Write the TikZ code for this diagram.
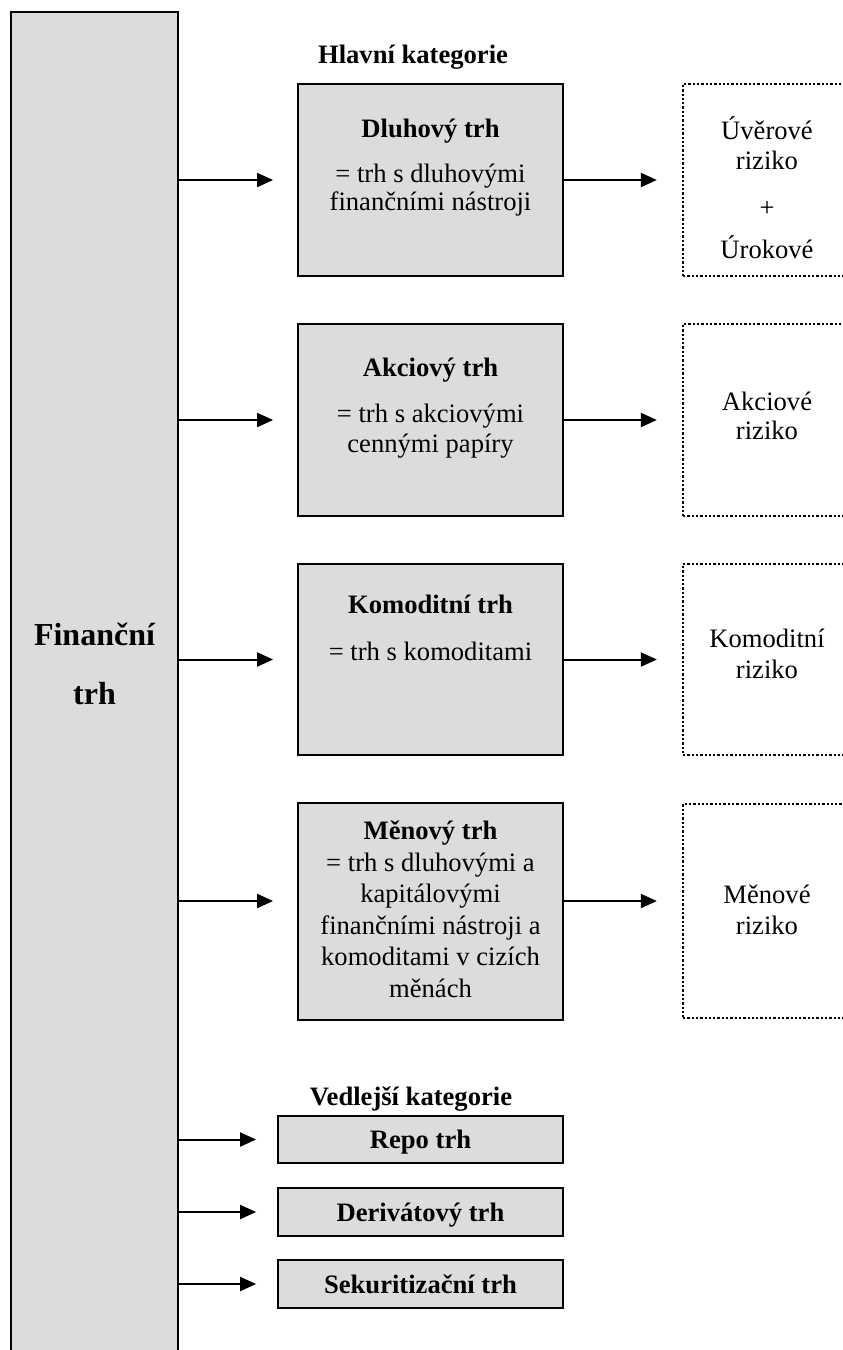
\documentclass[tikz,border=0pt]{standalone}
\usepackage{fontspec}
\setmainfont{Liberation Serif}
\usetikzlibrary{arrows.meta,calc}
\definecolor{boxgray}{HTML}{DCDCDC}
\tikzset{
  graybox/.style={draw=black, line width=1.8pt, fill=boxgray, inner sep=0pt},
  dotbox/.style={draw=black, line width=2.3pt, dash pattern=on 2.3pt off 2pt, inner sep=0pt},
  txt/.style={anchor=base, inner sep=0pt, font=\fontsize{26.6}{30}\selectfont},
  btxt/.style={anchor=base, inner sep=0pt, font=\fontsize{26.6}{30}\selectfont\bfseries},
  bigtxt/.style={anchor=base, inner sep=0pt, font=\fontsize{32}{38}\selectfont\bfseries},
  arr/.style={line width=2pt, -{Triangle[length=16pt,width=14pt]}}
}
\begin{document}
\begin{tikzpicture}[x=1pt,y=-1pt]
\useasboundingbox (0,0) rectangle (843,1350);
\clip (0,0) rectangle (843,1350);
% left big box
\node[graybox, minimum width=167pt, minimum height=1388pt] (fin) at (94.5,706) {};
\node[bigtxt] (fin1) at (94.5,645) {Finanční};
\node[bigtxt] (fin2) at (94.5,704) {trh};
% headings
\node[btxt] (hk) at (413,63) {Hlavní kategorie};
\node[btxt] (vk) at (411,1105) {Vedlejší kategorie};
% main boxes
\node[graybox, minimum width=265pt, minimum height=192pt] (b1) at (430.5,180) {};
\node[graybox, minimum width=265pt, minimum height=192pt] (b2) at (430.5,420) {};
\node[graybox, minimum width=265pt, minimum height=191pt] (b3) at (430.5,659.5) {};
\node[graybox, minimum width=265pt, minimum height=217pt] (b4) at (430.5,911.5) {};
\node[btxt] (t1a) at (430.5,137) {Dluhový trh};
\node[txt] (t1b) at (430.5,182) {= trh s dluhovými};
\node[txt] (t1c) at (430.5,210) {finančními nástroji};
\node[btxt] (t2a) at (430.5,376) {Akciový trh};
\node[txt] (t2b) at (430.5,422) {= trh s akciovými};
\node[txt] (t2c) at (430.5,452) {cennými papíry};
\node[btxt] (t3a) at (430.5,613) {Komoditní trh};
\node[txt] (t3b) at (430.5,660) {= trh s komoditami};
\node[btxt] (t4a) at (430.5,839) {Měnový trh};
\node[txt] (t4b) at (430.5,871) {= trh s dluhovými a};
\node[txt] (t4c) at (430.5,902) {kapitálovými};
\node[txt] (t4d) at (430.5,934) {finančními nástroji a};
\node[txt] (t4e) at (430.5,965) {komoditami v cizích};
\node[txt] (t4f) at (430.5,997) {měnách};
% side boxes
\node[graybox, minimum width=285pt, minimum height=47pt] (r1) at (420.5,1139.5) {};
\node[graybox, minimum width=285pt, minimum height=48pt] (r2) at (420.5,1212) {};
\node[graybox, minimum width=285pt, minimum height=48pt] (r3) at (420.5,1284) {};
\node[btxt] (s1) at (420.5,1148) {Repo trh};
\node[btxt] (s2) at (420.5,1221) {Derivátový trh};
\node[btxt] (s3) at (420.5,1293) {Sekuritizační trh};
% dotted risk boxes
\node[dotbox, minimum width=168pt, minimum height=192pt] (d1) at (767,180) {};
\node[dotbox, minimum width=168pt, minimum height=192pt] (d2) at (767,420) {};
\node[dotbox, minimum width=168pt, minimum height=191pt] (d3) at (767,659.5) {};
\node[dotbox, minimum width=168pt, minimum height=214pt] (d4) at (767,911) {};
\node[txt] (u1) at (767,139) {Úvěrové};
\node[txt] (u2) at (767,169) {riziko};
\node[txt] (u3) at (767,216) {+};
\node[txt] (u4) at (767,258) {Úrokové};
\node[txt] (k1) at (767,410) {Akciové};
\node[txt] (k2) at (767,439) {riziko};
\node[txt] (m1) at (767,647) {Komoditní};
\node[txt] (m2) at (767,678) {riziko};
\node[txt] (e1) at (767,903) {Měnové};
\node[txt] (e2) at (767,934) {riziko};
% arrow levels
\coordinate (a4) at (0,901);
% arrows from left box
\draw[arr] (fin.east |- b1.west) -- ($(b1.west)+(-24,0)$);
\draw[arr] (fin.east |- b2.west) -- ($(b2.west)+(-24,0)$);
\draw[arr] (fin.east |- b3.west) -- ($(b3.west)+(-24,0)$);
\draw[arr] (fin.east |- a4) -- ($(b4.west |- a4)+(-24,0)$);
\draw[arr] (fin.east |- r1.west) -- ($(r1.west)+(-21,0)$);
\draw[arr] (fin.east |- r2.west) -- ($(r2.west)+(-21,0)$);
\draw[arr] (fin.east |- r3.west) -- ($(r3.west)+(-21,0)$);
% arrows to risk boxes
\draw[arr] (b1.east) -- ($(d1.west)+(-25,0)$);
\draw[arr] (b2.east) -- ($(d2.west)+(-25,0)$);
\draw[arr] (b3.east) -- ($(d3.west)+(-25,0)$);
\draw[arr] (b4.east |- a4) -- ($(d4.west |- a4)+(-25,0)$);
\end{tikzpicture}
\end{document}
